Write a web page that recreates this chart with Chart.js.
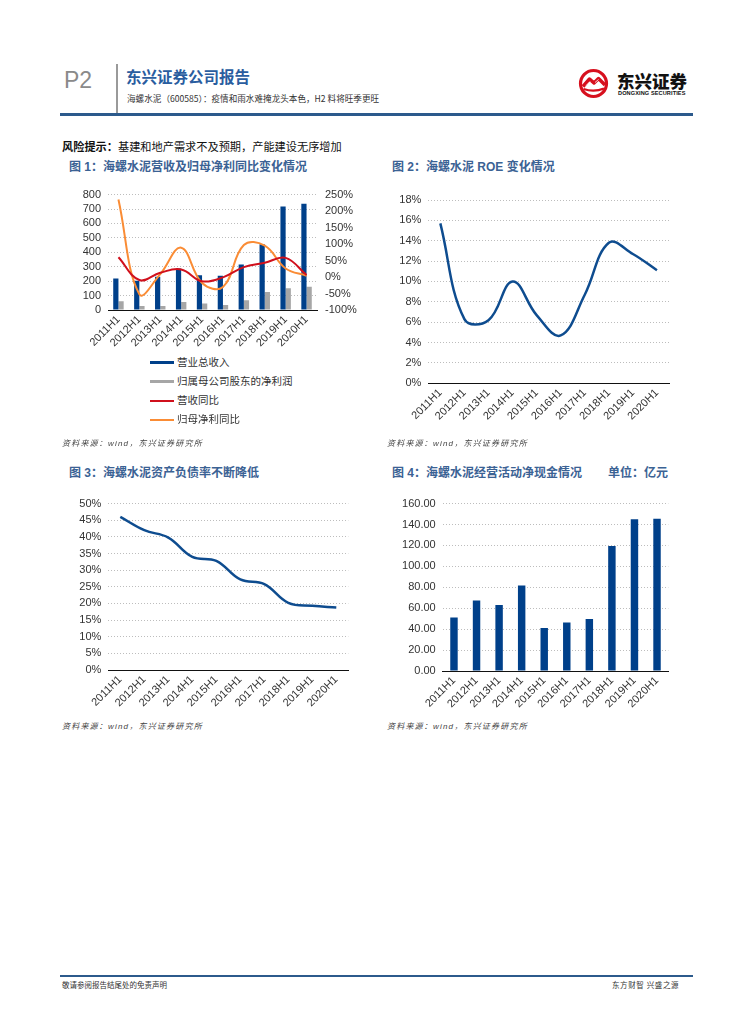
<!DOCTYPE html>
<html><head><meta charset="utf-8">
<script src="https://cdn.jsdelivr.net/npm/chart.js@4"></script>
<style>
body{margin:0;background:#fff;width:755px;height:1024px;position:relative;overflow:hidden;font-family:"Liberation Sans",Arial,"Noto Sans CJK SC",sans-serif;color:#222}
.abs{position:absolute;white-space:nowrap}
.cjk{font-family:"Noto Sans CJK SC",sans-serif}
.title{font-family:"Liberation Sans",Arial,"Noto Sans CJK SC",sans-serif;font-weight:bold;font-size:12px;color:#3B6294;line-height:14px}
.src{font-family:"Liberation Sans",Arial,"Noto Sans CJK SC",sans-serif;font-style:italic;font-size:8px;color:#444;letter-spacing:1.2px;line-height:10px}
.lg{position:absolute;left:150px;width:200px;height:1px;font-size:10.5px;color:#333;font-family:"Noto Sans CJK SC",sans-serif;line-height:12px;white-space:nowrap}
.lg i{position:absolute;left:0;width:24px}
.lg span{position:absolute;left:27px;top:-7px;white-space:nowrap}
canvas{position:absolute}
</style></head><body>

<div class="abs" style="left:64px;top:66px;font-size:23px;color:#8a8a8a;font-family:'Liberation Sans',Arial;line-height:28px">P2</div>
<div class="abs" style="left:116px;top:64px;width:1.5px;height:50px;background:#9a9a9a"></div>
<div class="abs cjk" style="left:126px;top:66px;font-size:15.5px;font-weight:bold;color:#2A5D9F;line-height:20px">东兴证券公司报告</div>
<div class="abs cjk" style="left:127px;top:92px;font-size:8.6px;color:#333;line-height:12px">海螺水泥（600585）：疫情和雨水难掩龙头本色，H2 料将旺季更旺</div>

<svg class="abs" style="left:577px;top:67px" width="34" height="34" viewBox="0 0 34 34">
  <circle cx="16.5" cy="16.5" r="13" fill="none" stroke="#D7101E" stroke-width="3.2"/>
  <path d="M6 19.5 L12.5 12 L17 16 L21.5 11.5 L28 18" fill="none" stroke="#D7101E" stroke-width="3.5" stroke-linejoin="round"/>
  <path d="M6.5 22 Q17 25.5 27 21.5" fill="none" stroke="#D7101E" stroke-width="2.2"/>
  <path d="M9 18.5 L13 14.5 M18 15.5 L21.5 12.5" stroke="#fff" stroke-width="0.8"/>
</svg>
<div class="abs cjk" style="left:617px;top:71px;font-size:17.5px;font-weight:900;color:#111;line-height:20px;letter-spacing:0px">东兴证券</div>
<div class="abs" style="left:618px;top:90px;font-size:5.6px;font-weight:bold;color:#111;line-height:7px;letter-spacing:0.1px">DONGXING SECURITIES</div>

<div class="abs" style="left:60px;top:112.5px;width:633px;height:3px;background:#2C5A8C"></div>

<div class="abs cjk" style="left:62px;top:139px;font-size:11.2px;color:#111;line-height:15px"><b>风险提示：</b>基建和地产需求不及预期，产能建设无序增加</div>

<div class="abs title" style="left:69px;top:160px">图 1：海螺水泥营收及归母净利同比变化情况</div>
<div class="abs title" style="left:392px;top:160px">图 2：海螺水泥 ROE 变化情况</div>
<div class="abs title" style="left:69px;top:466px">图 3：海螺水泥资产负债率不断降低</div>
<div class="abs title" style="left:392px;top:466px">图 4：海螺水泥经营活动净现金情况</div>
<div class="abs title" style="left:608px;top:466px">单位：亿元</div>

<canvas id="c1" style="left:60px;top:180px" width="310" height="170"></canvas>
<canvas id="c2" style="left:380px;top:185px" width="300" height="255"></canvas>
<canvas id="c3" style="left:60px;top:490px" width="300" height="230"></canvas>
<canvas id="c4" style="left:380px;top:490px" width="300" height="230"></canvas>

<div id="legend1"></div>

<div class="abs src" style="left:62px;top:439px">资料来源：wind，东兴证券研究所</div>
<div class="abs src" style="left:387px;top:439px">资料来源：wind，东兴证券研究所</div>
<div class="abs src" style="left:62px;top:722px">资料来源：wind，东兴证券研究所</div>
<div class="abs src" style="left:387px;top:722px">资料来源：wind，东兴证券研究所</div>

<div class="abs" style="left:60px;top:975px;width:633px;height:1.5px;background:#2C5A8C"></div>
<div class="abs cjk" style="left:62px;top:980px;font-size:7.5px;color:#333;line-height:10px">敬请参阅报告结尾处的免责声明</div>
<div class="abs cjk" style="left:612px;top:980px;font-size:7.5px;color:#333;line-height:10px;letter-spacing:0.6px">东方财智 兴盛之源</div>

<script>
// ---------- data ----------
const categories = ['2011H1','2012H1','2013H1','2014H1','2015H1','2016H1','2017H1','2018H1','2019H1','2020H1'];
// Figure 1 (亿元 / %)
const revenue    = [218, 203, 230, 288, 241, 237, 316, 455, 717, 737];
const netProfit  = [61, 27, 27, 56, 45, 34, 68, 124, 151, 162];
const revenueYoY = [60, -9, 13, 23, -13, -1, 30, 43, 58, 6];
const profitYoY  = [235, -52, 9, 89, -18, -30, 97, 95, 26, 4];
const seriesNames1 = ['营业总收入','归属母公司股东的净利润','营收同比','归母净利同比'];
// Figure 2 ROE (%)
const roe = [15.7, 6.3, 6.2, 10.0, 6.7, 4.7, 8.7, 13.8, 12.7, 11.1];
// Figure 3 debt ratio (%)
const debtRatio = [46.0, 42.0, 39.8, 34.0, 32.8, 27.2, 25.8, 20.2, 19.3, 18.8];
// Figure 4 operating net cash flow (亿元)
const opCash = [51.1, 67.4, 63.0, 81.8, 41.0, 46.4, 49.8, 119.4, 145.0, 145.5];

// ---------- styles ----------
const BLUE = '#00408A', GRAY = '#A6A6A6', RED = '#D0101C', ORANGE = '#FA8C35';
const tickFont = {family: '"Liberation Sans", Arial, sans-serif', size: 11};
const tickColor = '#333';
const gridDotted = {color: '#BDBDBD', lineWidth: 1, drawTicks: false};

function yAxis(min, max, step, width, fmt) {
  return {
    min: min, max: max,
    ticks: {stepSize: step, autoSkip: false, font: tickFont, color: tickColor, padding: 7, callback: fmt},
    grid: gridDotted,
    border: {display: false, dash: [1, 2]},
    afterFit: s => { s.width = width; }
  };
}
function xAxis(height) {
  return {
    ticks: {font: tickFont, color: tickColor, maxRotation: 45, minRotation: 45, autoSkip: false, padding: 3},
    grid: {display: false, drawTicks: false},
    border: {display: true, color: '#111', width: 1},
    afterFit: s => { s.height = height; }
  };
}
const common = {
  responsive: false, animation: false, devicePixelRatio: 1,
  plugins: {legend: {display: false}, tooltip: {enabled: false}}
};

// ---------- chart 1 ----------
new Chart(document.getElementById('c1'), {
  type: 'bar',
  data: {
    labels: categories,
    datasets: [
      {type: 'line', label: seriesNames1[2], data: revenueYoY, yAxisID: 'y1', borderColor: RED, borderWidth: 2, pointRadius: 0, tension: 0.4, order: 0},
      {type: 'line', label: seriesNames1[3], data: profitYoY, yAxisID: 'y1', borderColor: ORANGE, borderWidth: 2, pointRadius: 0, tension: 0.4, order: 0},
      {label: seriesNames1[0], data: revenue, yAxisID: 'y', backgroundColor: BLUE, categoryPercentage: 0.5, barPercentage: 1.0, order: 1},
      {label: seriesNames1[1], data: netProfit, yAxisID: 'y', backgroundColor: GRAY, categoryPercentage: 0.5, barPercentage: 1.0, order: 1}
    ]
  },
  options: Object.assign({}, common, {
    layout: {padding: {top: 11.7, right: 0, left: 0, bottom: 0}},
    scales: {
      x: xAxis(40),
      y: yAxis(0, 800, 100, 48, v => v),
      y1: {
        position: 'right', min: -100, max: 250,
        ticks: {stepSize: 50, autoSkip: false, font: tickFont, color: tickColor, padding: 8, callback: v => v + '%'},
        grid: {display: false, drawTicks: false},
        border: {display: false},
        afterFit: s => { s.width = 53; }
      }
    }
  })
});

// legend 1 (built from the dataset names / colours)
(function () {
  const items = [
    {name: seriesNames1[0], color: BLUE, h: 3},
    {name: seriesNames1[1], color: GRAY, h: 3},
    {name: seriesNames1[2], color: RED, h: 2},
    {name: seriesNames1[3], color: ORANGE, h: 2}
  ];
  const box = document.getElementById('legend1');
  items.forEach((it, i) => {
    const d = document.createElement('div');
    d.className = 'lg';
    d.style.top = (363 + i * 19) + 'px';
    d.innerHTML = '<i style="background:' + it.color + ';height:' + it.h + 'px;top:' + (-Math.round(it.h / 2)) + 'px"></i><span>' + it.name + '</span>';
    box.appendChild(d);
  });
})();

// ---------- chart 2 ----------
new Chart(document.getElementById('c2'), {
  type: 'line',
  data: {labels: categories, datasets: [{label: 'ROE', data: roe, borderColor: '#0E4C8F', borderWidth: 2.5, pointRadius: 0, tension: 0.4}]},
  options: Object.assign({}, common, {
    layout: {padding: {top: 15, right: 11, left: 0, bottom: 0}},
    scales: {
      x: Object.assign(xAxis(56.7), {offset: true}),
      y: yAxis(0, 18, 2, 48.3, v => v + '%')
    }
  })
});

// ---------- chart 3 ----------
new Chart(document.getElementById('c3'), {
  type: 'line',
  data: {labels: categories, datasets: [{label: '资产负债率', data: debtRatio, borderColor: '#0E4C8F', borderWidth: 2.5, pointRadius: 0, tension: 0.4}]},
  options: Object.assign({}, common, {
    layout: {padding: {top: 13.3, right: 11.7, left: 0, bottom: 0}},
    scales: {
      x: Object.assign(xAxis(50), {offset: true}),
      y: yAxis(0, 50, 5, 48.3, v => v + '%')
    }
  })
});

// ---------- chart 4 ----------
new Chart(document.getElementById('c4'), {
  type: 'bar',
  data: {labels: categories, datasets: [{label: '经营活动净现金', data: opCash, backgroundColor: BLUE, categoryPercentage: 1.0, barPercentage: 0.33}]},
  options: Object.assign({}, common, {
    layout: {padding: {top: 11, right: 11.7, left: 0, bottom: 0}},
    scales: {
      x: xAxis(49),
      y: yAxis(0, 160, 20, 62.7, v => Number(v).toFixed(2))
    }
  })
});
</script>
</body></html>
